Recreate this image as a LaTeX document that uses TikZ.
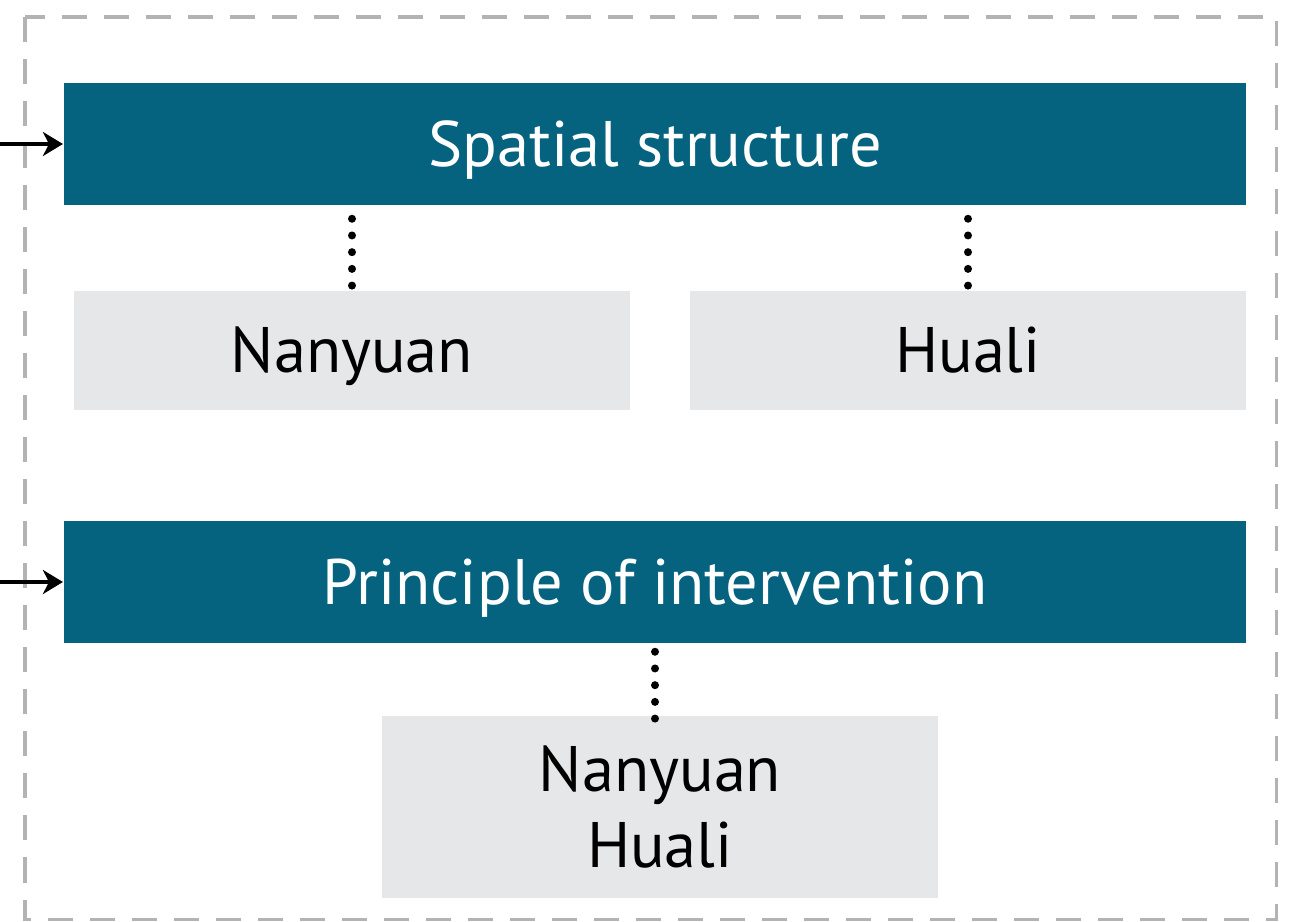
\documentclass[tikz,border=0pt]{standalone}
\usepackage{fontspec}
\setmainfont{PT Sans}
\usetikzlibrary{arrows.meta}
\usetikzlibrary{positioning}
\definecolor{teal}{RGB}{6,99,128}
\definecolor{lightgrey}{RGB}{230,231,232}
\definecolor{borderg}{RGB}{179,179,179}

\begin{document}
\begin{tikzpicture}[x=0.01cm,y=-0.01cm,
  darkbox/.style={fill=teal,draw=none,text=white,minimum width=11.82cm,minimum height=1.22cm,font=\fontsize{18.3}{22}\selectfont,inner sep=0pt,text height=0.46cm,text depth=0.02cm},
  greybox/.style={fill=lightgrey,draw=none,text=black,minimum width=5.56cm,minimum height=1.19cm,font=\fontsize{18.3}{22}\selectfont,inner sep=0pt,align=center,text height=0.46cm,text depth=0.02cm},
  dots/.style={line width=0.08cm,line cap=round,dash pattern=on 0pt off 0.167cm},
  inarrow/.style={line width=0.032cm,-{Stealth[length=0.2cm,width=0.24cm,inset=0.06cm]}}]
\useasboundingbox (0,0) rectangle (1294,921);
\draw[borderg,line width=0.03cm,dash pattern=on 0.25cm off 0.17cm] (25,17) rectangle (1276,919);

\node[darkbox] (spatial) at (655,144) {Spatial structure};
\node[greybox] (nanyuan) at (352,350.5) {Nanyuan};
\node[greybox] (huali) at (968,350.5) {Huali};
\node[darkbox,minimum height=1.21cm] (principle) at (655,582) {Principle of intervention};
\node[greybox,minimum height=1.82cm,text height=,text depth=,font=\fontsize{18.3}{21.5}\selectfont] (both) at (660,807) {Nanyuan\\Huali};

\coordinate (in1) at (0,144);
\coordinate (in2) at (0,582);
\draw[inarrow] (in1) -- (spatial.west);
\draw[inarrow] (in2) -- (principle.west);

% dotted links
\draw[dots,shorten <=0.13cm,shorten >=0.045cm] (nanyuan.north |- spatial.south) -- (nanyuan.north);
\draw[dots,shorten <=0.13cm,shorten >=0.045cm] (huali.north |- spatial.south) -- (huali.north);
\draw[dots,shorten <=0.085cm,shorten >=-0.035cm] (principle.south -| 655,0) -- (both.north -| 655,0);

\end{tikzpicture}
\end{document}
